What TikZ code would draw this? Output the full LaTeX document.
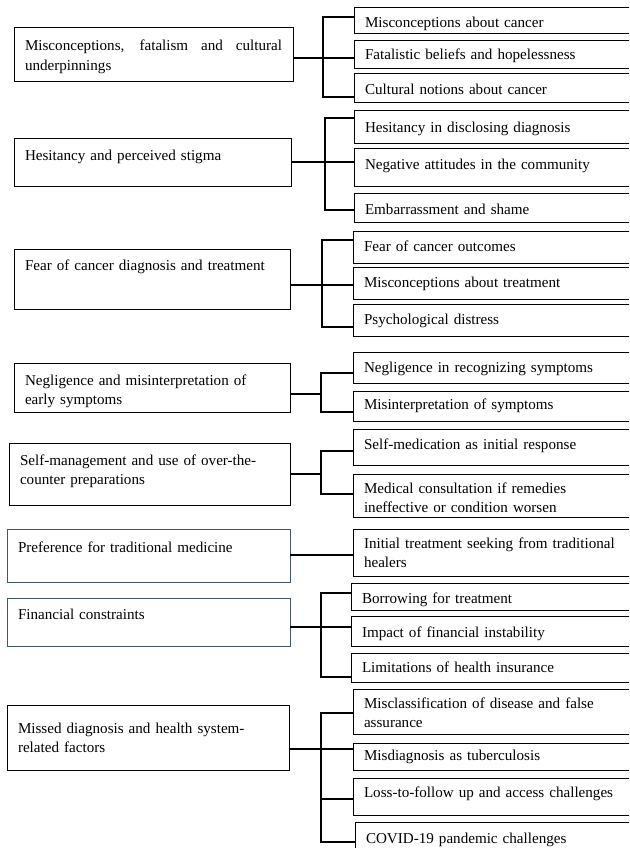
\documentclass[tikz,border=0pt]{standalone}
\usepackage{fontspec}
\setmainfont{Liberation Serif}
\definecolor{slate}{RGB}{68,84,106}
\newcommand\mybox[8]{%
  \pgfmathsetmacro\myTW{#5-#3-22}%
  \pgfmathsetmacro\myTD{#6-#4-#7}%
  \node[#2, text width=\myTW pt, text height=#7pt, text depth=\myTD pt, anchor=north west] (#1) at (#3pt,-#4pt) {#8};}
\begin{document}
\begin{tikzpicture}[
  bx/.style={draw=black, line width=1pt, inner xsep=11pt, inner ysep=0pt, outer sep=0pt, align=left,
    font=\fontsize{15.1}{19.5}\selectfont},
  bxj/.style={bx, align=justify},
  bxb/.style={bx, draw=slate},
  conn/.style={draw=black, line width=1.1pt}
]
\useasboundingbox (0,0) rectangle (629pt,-848pt);
\clip (0,0) rectangle (629pt,-848pt);
\fill[white] (0,0) rectangle (629pt,-848pt);

% left boxes
\mybox{L1}{bxj}{14}{28}{293}{82}{23}{Misconceptions, fatalism and cultural\linebreak underpinnings}
\mybox{L2}{bx}{14}{138}{291}{186}{22}{Hesitancy and perceived stigma}
\mybox{L3}{bx}{14}{249}{290}{309}{21}{Fear of cancer diagnosis and treatment}
\mybox{L4}{bx}{14}{363}{290}{412}{22}{Negligence and misinterpretation of\\early symptoms}
\mybox{L5}{bx}{9}{443}{290}{505}{22}{Self-management and use of over-the-\\counter preparations}
\mybox{L6}{bxb}{7}{529}{290}{582}{23}{Preference for traditional medicine}
\mybox{L7}{bxb}{7}{598}{290}{646}{21}{Financial constraints}
\mybox{L8}{bx}{7}{705}{289}{770}{28}{Missed diagnosis and health system-\\related factors}

% right boxes
\mybox{R11}{bx}{354}{8}{645}{34}{20}{Misconceptions about cancer}
\mybox{R12}{bx}{354}{41}{645}{69}{19}{Fatalistic beliefs and hopelessness}
\mybox{R13}{bx}{354}{74}{645}{103}{21}{Cultural notions about cancer}
\mybox{R21}{bx}{354}{111}{645}{143}{21}{Hesitancy in disclosing diagnosis}
\mybox{R22}{bx}{354}{148}{645}{186}{21}{Negative attitudes in the community}
\mybox{R23}{bx}{354}{193}{645}{222}{21}{Embarrassment and shame}
\mybox{R31}{bx}{353}{231}{645}{263}{20}{Fear of cancer outcomes}
\mybox{R32}{bx}{353}{267}{645}{299}{20}{Misconceptions about treatment}
\mybox{R33}{bx}{353}{304}{645}{336}{20}{Psychological distress}
\mybox{R41}{bx}{353}{352}{645}{383}{20}{Negligence in recognizing symptoms}
\mybox{R42}{bx}{353}{391}{645}{421}{18}{Misinterpretation of symptoms}
\mybox{R51}{bx}{353}{429}{645}{465}{20}{Self-medication as initial response}
\mybox{R52}{bx}{353}{474}{645}{517}{19}{Medical consultation if remedies\\ineffective or condition worsen}
\mybox{R61}{bx}{353}{529}{645}{576}{19}{Initial treatment seeking from traditional\\healers}
\mybox{R71}{bx}{351}{583}{645}{610}{20}{Borrowing for treatment}
\mybox{R72}{bx}{351}{616}{645}{646}{21}{Impact of financial instability}
\mybox{R73}{bx}{351}{653}{645}{682}{19}{Limitations of health insurance}
\mybox{R81}{bx}{353}{689}{645}{734}{19}{Misclassification of disease and false\\assurance}
\mybox{R82}{bx}{353}{743}{645}{770}{17}{Misdiagnosis as tuberculosis}
\mybox{R83}{bx}{353}{778}{645}{815}{19}{Loss-to-follow up and access challenges}
\mybox{R84}{bx}{355}{822}{645}{851}{21}{COVID-19 pandemic challenges}

% group 1
\coordinate (g1t) at (323pt,-17pt); \coordinate (g1j) at (323pt,-58pt); \coordinate (g1b) at (323pt,-97pt);
\draw[conn] (L1.east |- g1j) -- (R12.west |- g1j);
\draw[conn] (R11.west |- g1t) -- (g1t) -- (g1b) -- (R13.west |- g1b);
% group 2
\coordinate (g2t) at (325pt,-118pt); \coordinate (g2j) at (325pt,-162pt); \coordinate (g2b) at (325pt,-210pt);
\draw[conn] (L2.east |- g2j) -- (R22.west |- g2j);
\draw[conn] (R21.west |- g2t) -- (g2t) -- (g2b) -- (R23.west |- g2b);
% group 3
\coordinate (g3t) at (322pt,-240pt); \coordinate (g3j) at (322pt,-285pt); \coordinate (g3b) at (322pt,-327pt);
\draw[conn] (L3.east |- g3j) -- (R32.west |- g3j);
\draw[conn] (R31.west |- g3t) -- (g3t) -- (g3b) -- (R33.west |- g3b);
% group 4
\coordinate (g4t) at (321pt,-373pt); \coordinate (g4j) at (321pt,-394pt); \coordinate (g4b) at (321pt,-412pt);
\draw[conn] (L4.east |- g4j) -- (g4j);
\draw[conn] (R41.west |- g4t) -- (g4t) -- (g4b) -- (R42.west |- g4b);
% group 5
\coordinate (g5t) at (321pt,-451pt); \coordinate (g5j) at (321pt,-474pt); \coordinate (g5b) at (321pt,-494pt);
\draw[conn] (L5.east |- g5j) -- (g5j);
\draw[conn] (R51.west |- g5t) -- (g5t) -- (g5b) -- (R52.west |- g5b);
% group 6
\coordinate (g6j) at (321pt,-555pt);
\draw[conn] (L6.east |- g6j) -- (R61.west |- g6j);
% group 7
\coordinate (g7t) at (321pt,-593pt); \coordinate (g7j) at (321pt,-627pt); \coordinate (g7b) at (321pt,-677pt);
\draw[conn] (L7.east |- g7j) -- (R72.west |- g7j);
\draw[conn] (R71.west |- g7t) -- (g7t) -- (g7b) -- (R73.west |- g7b);
% group 8
\coordinate (g8t) at (321pt,-713pt); \coordinate (g8j) at (321pt,-749pt); \coordinate (g8m) at (321pt,-799pt); \coordinate (g8b) at (321pt,-842pt);
\draw[conn] (L8.east |- g8j) -- (R82.west |- g8j);
\draw[conn] (R81.west |- g8t) -- (g8t) -- (g8b) -- (R84.west |- g8b);
\draw[conn] (g8m) -- (R83.west |- g8m);
\end{tikzpicture}
\end{document}
